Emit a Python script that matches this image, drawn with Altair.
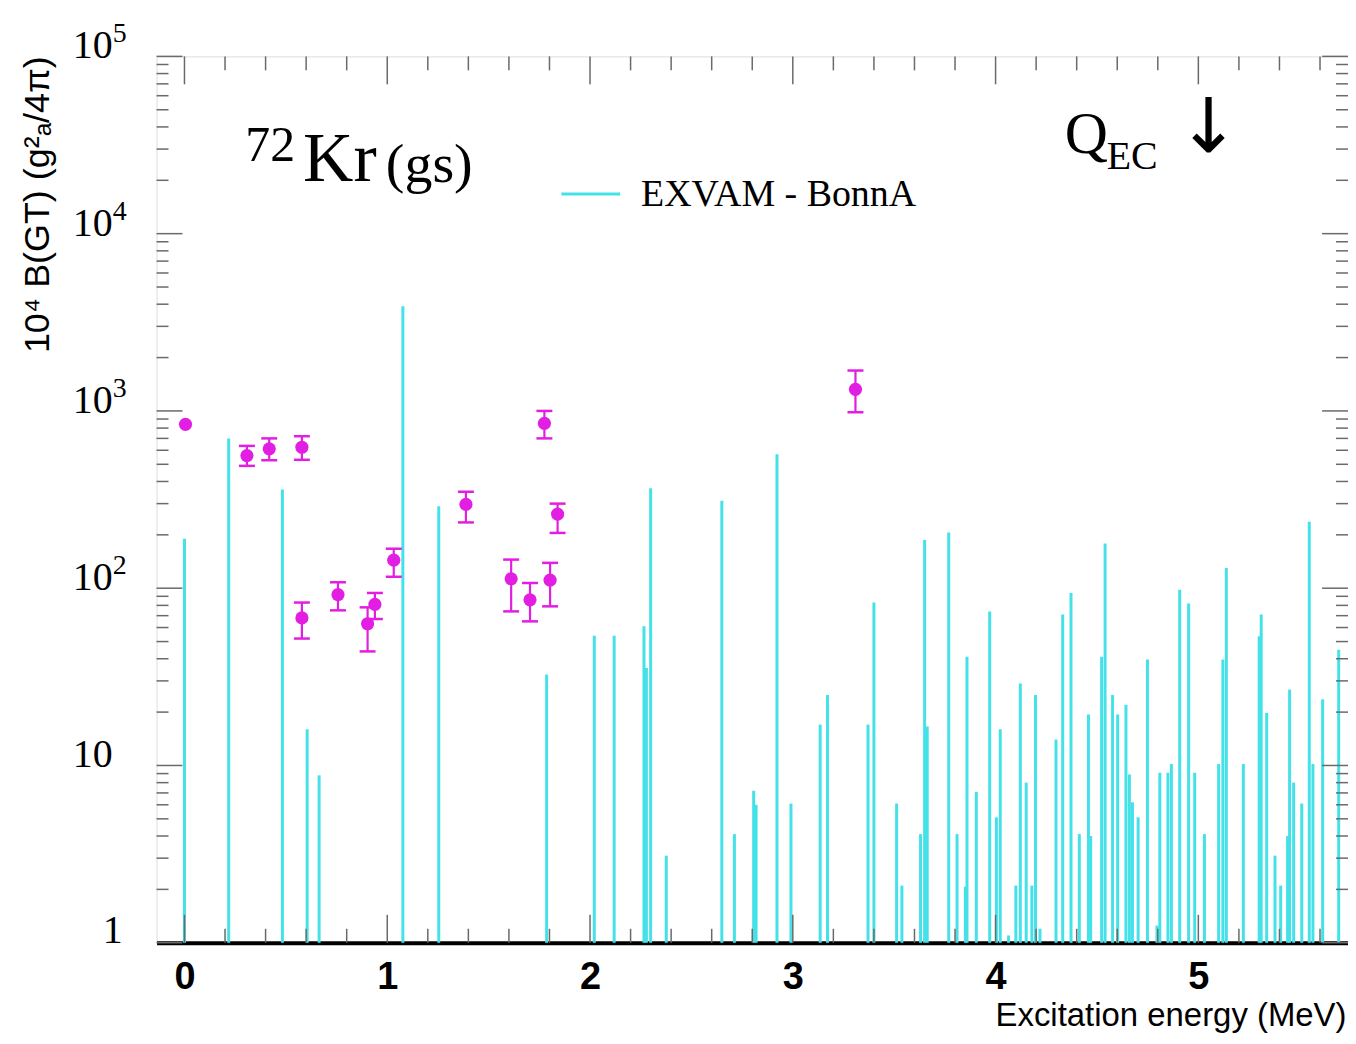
import altair as alt
import pandas as pd

# ---------------- data ----------------
# theory (EXVAM - BonnA) strengths: excitation energy (MeV) and 10^4 B(GT)
theo_E = [0.000, 0.218, 0.483, 0.605, 0.664, 1.077, 1.254, 1.786, 2.021, 2.119,
          2.266, 2.278, 2.299, 2.376, 2.650, 2.712, 2.807, 2.819, 2.922, 2.991,
          3.135, 3.171, 3.371, 3.400, 3.512, 3.538, 3.630, 3.650, 3.663, 3.769,
          3.810, 3.851, 3.859, 3.905, 3.971, 4.004, 4.023, 4.064, 4.100, 4.122,
          4.151, 4.179, 4.197, 4.219, 4.298, 4.331, 4.372, 4.413, 4.458, 4.469,
          4.523, 4.540, 4.577, 4.602, 4.643, 4.660, 4.675, 4.703, 4.749, 4.796,
          4.810, 4.850, 4.867, 4.908, 4.952, 4.982, 5.030, 5.100, 5.121, 5.138,
          5.222, 5.300, 5.310, 5.337, 5.378, 5.406, 5.440, 5.450, 5.470, 5.510,
          5.547, 5.565, 5.613, 5.692]
theo_B = [190, 700, 360, 16, 8.8, 3900, 290, 32.6, 54, 54,
          61, 35.5, 366, 3.1, 311, 4.1, 7.2, 6.0, 570, 6.1,
          17, 25, 17, 83, 6.1, 2.1, 4.1, 187, 16.6, 206,
          4.1, 2.07, 41, 7.1, 74, 5.1, 16, 1.1, 2.1, 29,
          8.0, 2.1, 25, 1.2, 14, 71, 94, 4.1, 19.4, 4.0,
          41, 179, 25, 19.4, 22, 8.9, 6.2, 5.1, 39.6, 1.25,
          9.1, 9.1, 10.2, 98, 82, 9.1, 4.1, 10.2, 39.6, 130,
          10.2, 53.5, 71, 19.8, 3.1, 2.1, 4.0, 26.8, 8.0, 6.1,
          237, 10.2, 23.6, 45]

# experimental points with error bars
exp_E = [0.005, 0.308, 0.418, 0.579, 0.579, 0.757, 0.903, 0.939, 1.032, 1.388,
         1.611, 1.704, 1.775, 1.803, 1.840, 3.309]
exp_B = [840, 560, 611, 624, 68, 92, 63, 81, 144, 297,
         113, 86, 850, 111, 262, 1324]
exp_lo = [840, 490, 527, 530, 52, 75, 44, 67, 116, 235,
          74, 65, 700, 79, 205, 983]
exp_hi = [840, 635, 700, 720, 83, 108, 78, 94, 167, 350,
          145, 107, 1000, 139, 300, 1690]

x_major = [0, 1, 2, 3, 4, 5]
x_minor = [round(0.2 * i, 1) for i in range(0, 29) if i % 5 != 0]
y_major = [1, 10, 100, 1000, 10000, 100000]
y_minor = [m * 10 ** d for d in range(0, 5) for m in range(2, 10)]
y_sup = ["", "", "2", "3", "4", "5"]
y_base = ["1", "10", "10", "10", "10", "10"]

W, H = 1195, 889
XMIN, XMAX = -0.1377, 5.738

CYAN = "#44e2e8"
MAG = "#e21ee2"
TICK = "#6a6a6a"
SERIF = "Liberation Serif"
SANS = "Liberation Sans"

xs = alt.Scale(domain=[XMIN, XMAX], nice=False, zero=False)
ys = alt.Scale(type="log", domain=[1, 100000], nice=False)

theo = pd.DataFrame({"E": theo_E, "B": theo_B})
exp = pd.DataFrame({"E": exp_E, "B": exp_B, "lo": exp_lo, "hi": exp_hi})
xmaj = pd.DataFrame({"E": x_major})
xmin_df = pd.DataFrame({"E": x_minor})
ymaj = pd.DataFrame({"B": y_major, "base": y_base, "sup": y_sup})
ymin_df = pd.DataFrame({"B": y_minor})

X = alt.X("E:Q", scale=xs, axis=alt.Axis(
    values=x_major, format="d", ticks=False, grid=False, domain=True,
    domainColor="#000", domainWidth=4, labelFont=SANS, labelFontWeight="bold",
    labelFontSize=38, labelColor="#000", labelPadding=16,
    title="Excitation energy (MeV)", titleFont=SANS, titleFontWeight="normal",
    titleFontSize=33, titleColor="#000", titleAlign="right", titleAnchor="end",
    titleX=W - 2, titleY=83, titleBaseline="alphabetic"))
Y = alt.Y("B:Q", scale=ys, axis=None)

lines = alt.Chart(theo).mark_rule(color=CYAN, strokeWidth=3).encode(
    x=X, y=Y, y2=alt.datum(1))

# ticks (inside, mirrored on all four sides)
def xticks(df, ln):
    b = alt.Chart(df).mark_rule(color=TICK, strokeWidth=1.5)
    return (b.encode(x=alt.X("E:Q", scale=xs), y=alt.value(H), y2=alt.value(H - ln)) +
            b.encode(x=alt.X("E:Q", scale=xs), y=alt.value(0), y2=alt.value(ln)))

def yticks(df, ln):
    b = alt.Chart(df).mark_rule(color=TICK, strokeWidth=1.5)
    return (b.encode(y=alt.Y("B:Q", scale=ys), x=alt.value(0), x2=alt.value(ln)) +
            b.encode(y=alt.Y("B:Q", scale=ys), x=alt.value(W), x2=alt.value(W - ln)))

ticks = xticks(xmaj, 28) + xticks(xmin_df, 14) + yticks(ymaj, 26) + yticks(ymin_df, 12)

ebar = alt.Chart(exp).transform_filter("datum.hi > datum.lo").mark_rule(
    color=MAG, strokeWidth=2.2).encode(
    x=alt.X("E:Q", scale=xs), y=alt.Y("lo:Q", scale=ys), y2="hi:Q")
cap_lo = alt.Chart(exp).transform_filter("datum.hi > datum.lo").mark_rule(
    color=MAG, strokeWidth=2.5, xOffset=-8, x2Offset=8).encode(
    x=alt.X("E:Q", scale=xs), x2="E:Q", y=alt.Y("lo:Q", scale=ys))
cap_hi = alt.Chart(exp).transform_filter("datum.hi > datum.lo").mark_rule(
    color=MAG, strokeWidth=2.5, xOffset=-8, x2Offset=8).encode(
    x=alt.X("E:Q", scale=xs), x2="E:Q", y=alt.Y("hi:Q", scale=ys))
pts = alt.Chart(exp).mark_point(filled=True, shape="circle", size=175, color=MAG, opacity=1).encode(
    x=alt.X("E:Q", scale=xs), y=alt.Y("B:Q", scale=ys))

# y tick labels: "10" with superscript exponents, and the lone "1"
ylab = alt.Chart(ymaj).transform_filter("datum.B > 1").mark_text(
    font=SERIF, fontSize=40, align="right", baseline="alphabetic", dy=2, color="#000").encode(
    y=alt.Y("B:Q", scale=ys), x=alt.value(-44), text="base:N")
ylab1 = alt.Chart(ymaj).transform_filter("datum.B == 1").mark_text(
    font=SERIF, fontSize=40, align="right", baseline="alphabetic", dy=0, color="#000").encode(
    y=alt.Y("B:Q", scale=ys), x=alt.value(-34), text="base:N")
ysup = alt.Chart(ymaj).mark_text(font=SERIF, fontSize=28, align="left", baseline="alphabetic",
                                 dy=-14, color="#000").encode(
    y=alt.Y("B:Q", scale=ys), x=alt.value(-44), text="sup:N")

def label(txt, x, y, size, font=SERIF, align="left", baseline="alphabetic", angle=0):
    kw = dict(font=font, fontSize=size, align=align, baseline=baseline, color="#000")
    if angle:
        kw["angle"] = angle
    return alt.Chart(pd.DataFrame({"t": [txt]})).mark_text(**kw).encode(
        x=alt.value(x), y=alt.value(y), text="t:N")

ytitle = label("10⁴ B(GT) (g²ₐ/4π)", -119, 0, 36, font=SANS, align="right",
               baseline="middle", angle=270)

ann = (label("72", 89, 105, 50) + label("Kr", 147, 125, 70) + label("(gs)", 230, 126, 56) +
       label("Q", 911, 97, 60) + label("EC", 953, 113, 40) +
       label("↓", 1055, 73, 76, font="DejaVu Sans", align="center", baseline="middle") +
       label("EXVAM - BonnA", 486, 150, 38))
leg_line = alt.Chart(pd.DataFrame({"a": [0]})).mark_rule(color=CYAN, strokeWidth=3).encode(
    x=alt.value(406), x2=alt.value(465), y=alt.value(138))

chart = alt.layer(lines, ticks, ebar, cap_lo, cap_hi, pts, ylab, ylab1, ysup, ytitle, ann, leg_line).properties(
    width=W, height=H,
    autosize=alt.AutoSizeParams(type="none"),
    padding={"left": 149, "top": 47, "right": 0, "bottom": 90},
).configure_view(stroke="#000", strokeWidth=3).configure(background="white")

chart.save("out.html", embed_options={"renderer": "svg", "actions": False})
